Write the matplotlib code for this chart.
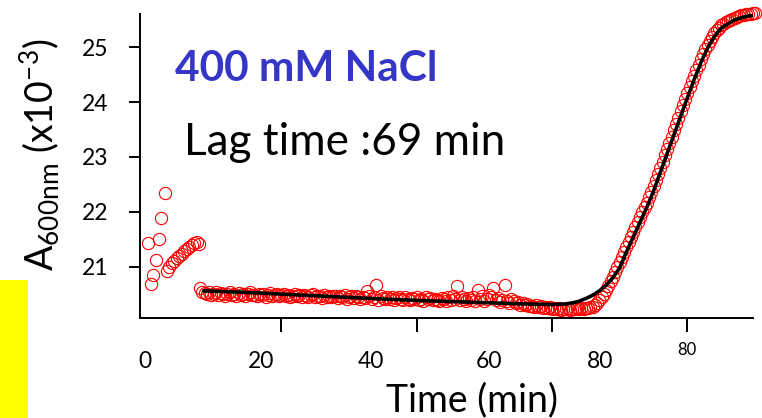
import numpy as np
import matplotlib
matplotlib.use("Agg")
import matplotlib.pyplot as plt
import matplotlib.patches as patches

plt.rcParams['font.family'] = ['Lato', 'DejaVu Sans']
plt.rcParams['mathtext.fontset'] = 'custom'
plt.rcParams['mathtext.rm'] = 'Lato'
plt.rcParams['mathtext.it'] = 'Lato'

# early readings (first few minutes)
early_t = [0.25, 0.69, 1.08, 1.48, 1.92, 2.27, 2.76,
           3.05, 3.45, 3.80, 4.19, 4.53, 4.93, 5.32, 5.66, 6.01, 6.40, 6.75, 7.10, 7.49, 7.88]
early_a = [21.44, 20.68, 20.85, 21.12, 21.50, 21.88, 22.34,
           20.93, 21.00, 21.06, 21.11, 21.15, 21.20, 21.24, 21.29, 21.32, 21.35, 21.39, 21.43, 21.45, 21.41]

# main readings, one every 20 s starting at 8 min
t_start = 8.0
main_a = [
    20.62, 20.54, 20.52, 20.50, 20.53, 20.49, 20.51, 20.54, 20.48, 20.52, 20.50, 20.47,
    20.51, 20.53, 20.48, 20.50, 20.46, 20.52, 20.49, 20.51, 20.47, 20.50, 20.53, 20.48,
    20.49, 20.46, 20.51, 20.48, 20.50, 20.45, 20.49, 20.52, 20.47, 20.48, 20.50, 20.46,
    20.48, 20.51, 20.46, 20.49, 20.44, 20.47, 20.50, 20.46, 20.48, 20.45, 20.49, 20.47,
    20.45, 20.48, 20.50, 20.44, 20.47, 20.46, 20.43, 20.48, 20.45, 20.47, 20.44, 20.46,
    20.47, 20.43, 20.46, 20.44, 20.48, 20.42, 20.45, 20.47, 20.43, 20.46, 20.44, 20.41,
    20.45, 20.43, 20.55, 20.46, 20.42, 20.44, 20.67, 20.40, 20.46, 20.43, 20.41, 20.45,
    20.42, 20.44, 20.40, 20.43, 20.45, 20.41, 20.39, 20.44, 20.42, 20.40, 20.43, 20.41,
    20.44, 20.40, 20.42, 20.38, 20.45, 20.41, 20.43, 20.39, 20.42, 20.40, 20.37, 20.43,
    20.41, 20.38, 20.44, 20.40, 20.46, 20.42, 20.64, 20.39, 20.45, 20.41, 20.38, 20.43,
    20.40, 20.44, 20.38, 20.57, 20.42, 20.46, 20.37, 20.41, 20.48, 20.44, 20.61, 20.39,
    20.43, 20.36, 20.40, 20.67, 20.38, 20.34, 20.41, 20.37, 20.33, 20.36, 20.31, 20.34,
    20.30, 20.32, 20.28, 20.29, 20.27, 20.30, 20.26, 20.28, 20.25, 20.27, 20.24, 20.26,
    20.23, 20.25, 20.22, 20.24, 20.21, 20.23, 20.22, 20.24, 20.21, 20.23, 20.22, 20.24,
    20.22, 20.24, 20.23, 20.25, 20.24, 20.26, 20.27, 20.30, 20.34, 20.40, 20.45, 20.51,
    20.58, 20.65, 20.73, 20.82, 20.91, 21.00, 21.09, 21.18, 21.27, 21.36, 21.45, 21.54,
    21.63, 21.72, 21.81, 21.90, 21.99, 22.08, 22.17, 22.27, 22.37, 22.47, 22.58, 22.69,
    22.80, 22.91, 23.03, 23.14, 23.26, 23.37, 23.49, 23.60, 23.71, 23.83, 23.94, 24.05,
    24.16, 24.27, 24.38, 24.48, 24.58, 24.68, 24.78, 24.87, 24.96, 25.05, 25.12, 25.19,
    25.26, 25.31, 25.36, 25.40, 25.43, 25.46, 25.48, 25.50, 25.52, 25.54, 25.55, 25.57,
    25.58, 25.59, 25.60, 25.60, 25.61, 25.62, 25.62,
]
main_t = t_start + np.arange(len(main_a)) / 3.0

# fitted curve
fit_t = [8.5, 15, 20, 25, 30, 35, 40, 45, 50, 55, 58, 60, 62, 63, 64, 65, 66, 67, 68, 69,
         70, 71, 72, 73, 74, 75, 76, 77, 78, 79, 80, 81, 82, 83, 84, 85, 86, 87, 88, 89, 89.8]
fit_a = [20.56, 20.53, 20.50, 20.47, 20.44, 20.41, 20.385, 20.365, 20.345, 20.325, 20.315,
         20.31, 20.32, 20.34, 20.37, 20.42, 20.48, 20.56, 20.66, 20.80,
         20.98, 21.27, 21.54, 21.81, 22.08, 22.38, 22.72, 23.06, 23.40, 23.74,
         24.08, 24.41, 24.72, 24.99, 25.20, 25.35, 25.43, 25.50, 25.54, 25.57, 25.59]

y_ticks = [21, 22, 23, 24, 25]
x_ticks = [20, 40, 60, 80]
# the x labels in the source sit apart from the tick marks
x_labels = ['0', '20', '40', '60', '80']
x_label_px = [145, 261, 371, 489, 600]

W, H = 762, 418
fig = plt.figure(figsize=(W / 100, H / 100), dpi=100)
ax = fig.add_axes([140 / W, 1 - 317.7 / H, (753 - 140) / W, (317.7 - 14) / H])

ax.plot(early_t, early_a, 'o', mfc='none', mec='#ff0000', ms=8.8, mew=0.8, clip_on=False)
ax.plot(main_t, main_a, 'o', mfc='none', mec='#ff0000', ms=8.8, mew=0.8, clip_on=False)
ax.plot(fit_t, fit_a, color='black', lw=2.6, solid_capstyle='round', zorder=3)

ax.set_xlim(-0.9, 89.7)
ax.set_ylim(20.07, 25.607)
ax.spines['top'].set_visible(False)
ax.spines['right'].set_visible(False)
for s in ['left', 'bottom']:
    ax.spines[s].set_linewidth(1.4)
ax.set_xticks(x_ticks)
ax.set_xticklabels([])
ax.tick_params(axis='x', length=10, width=1.4, direction='out')
ax.set_yticks(y_ticks)
ax.tick_params(axis='y', length=8, width=1.4, direction='out', labelsize=16.5, pad=15)

for lab, px in zip(x_labels, x_label_px):
    fig.text(px / W, 1 - 361 / H, lab, ha='center', va='center', fontsize=16.5)
fig.text(687 / W, 1 - 350 / H, '80', ha='center', va='center', fontsize=12)

fig.text(472 / W, 1 - 411.5 / H, 'Time (min)', ha='center', va='baseline', fontsize=27)
fig.text(40 / W, 1 - 155 / H, r'A$_{\mathrm{600nm}}$ (x10$^{\mathrm{-3}}$)',
         ha='center', va='center', rotation=90, fontsize=27)

fig.text(175 / W, 1 - 80.7 / H, '400 mM NaCl', ha='left', va='baseline',
         fontsize=30.5, fontweight='bold', color='#3535c8')
fig.text(184 / W, 1 - 155 / H, 'Lag time :69 min', ha='left', va='baseline', fontsize=31.8)

fig.patches.append(patches.Rectangle((0, 0), 28 / W, (H - 280) / H, transform=fig.transFigure,
                                     facecolor='#ffff00', edgecolor='none'))

fig.savefig('out.png', dpi=100)
